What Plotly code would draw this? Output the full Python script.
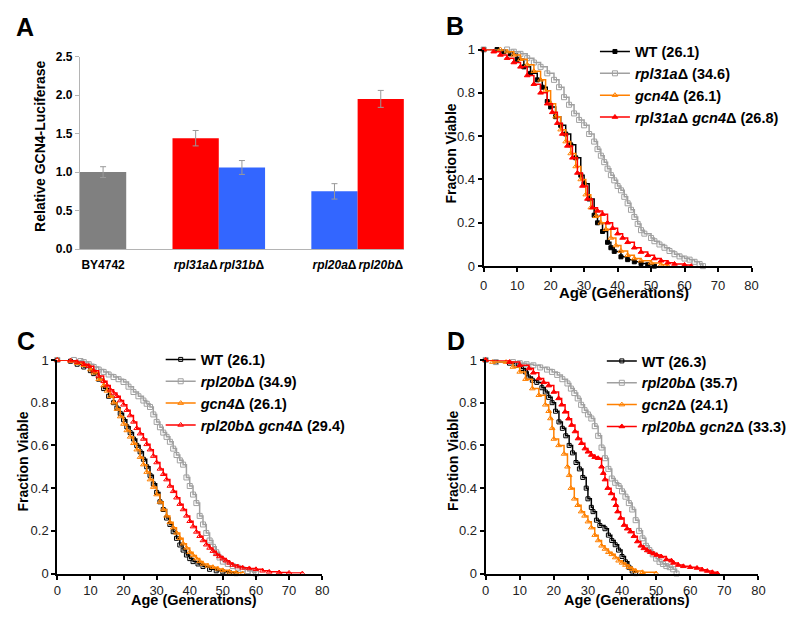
import plotly.graph_objects as go

FONT = "Liberation Sans, Arial, sans-serif"

# ---------------- Panel A data ----------------
a_labels = ["BY4742", "<i>rpl31a</i>Δ", "<i>rpl31b</i>Δ", "<i>rpl20a</i>Δ", "<i>rpl20b</i>Δ"]
a_pos = [0.5, 2.5, 3.5, 5.5, 6.5]
a_values = [1.00, 1.44, 1.06, 0.75, 1.95]
a_errors = [0.07, 0.10, 0.09, 0.10, 0.11]
a_colors = ["#808080", "#ff0000", "#3366ff", "#3366ff", "#ff0000"]

# ---------------- Panel B data ----------------
b_wt_age = [0, 4, 6, 8, 10, 12, 14, 16, 17.5, 19, 20, 21.5, 23, 24.5, 26, 27.5, 29, 30, 31.5, 33, 34, 35.5, 37, 38, 39, 41, 43, 45, 47, 49, 51]
b_wt_f = [1, 1, 0.99, 0.98, 0.955, 0.92, 0.89, 0.86, 0.826, 0.76, 0.735, 0.69, 0.65, 0.61, 0.56, 0.50, 0.42, 0.38, 0.31, 0.235, 0.20, 0.16, 0.11, 0.085, 0.068, 0.043, 0.03, 0.02, 0.012, 0.006, 0]
b_rpl_age = [0, 7, 9, 11, 13, 15, 17, 19, 21, 22.5, 24, 25.5, 27, 28.5, 30, 31.5, 33, 34, 35, 36, 37, 38, 39, 40, 41, 42, 43, 44, 45, 46, 47, 48, 50, 51, 52.5, 54, 55.5, 57, 58.5, 60, 61.5, 63, 64.5, 65.5]
b_rpl_f = [1, 1, 0.99, 0.98, 0.96, 0.94, 0.92, 0.89, 0.86, 0.826, 0.78, 0.745, 0.705, 0.675, 0.65, 0.61, 0.575, 0.54, 0.51, 0.48, 0.45, 0.42, 0.396, 0.37, 0.35, 0.32, 0.29, 0.26, 0.227, 0.195, 0.166, 0.15, 0.13, 0.115, 0.10, 0.085, 0.07, 0.055, 0.045, 0.035, 0.03, 0.02, 0.01, 0]
b_gcn_age = [0, 5, 7, 9, 11, 13, 15, 17, 18.5, 20, 21.5, 23, 24.5, 26, 27.5, 29, 30.5, 32, 33.5, 35, 36.5, 38, 39.5, 41, 43, 45, 47, 50, 53, 55]
b_gcn_f = [1, 1, 0.99, 0.975, 0.955, 0.93, 0.90, 0.86, 0.81, 0.75, 0.69, 0.63, 0.575, 0.52, 0.46, 0.40, 0.33, 0.27, 0.23, 0.20, 0.17, 0.13, 0.095, 0.07, 0.05, 0.035, 0.025, 0.015, 0.006, 0]
b_dbl_age = [0, 3, 5, 7, 9, 11, 13, 15, 17, 19, 20.5, 22, 23.5, 25, 26.5, 28, 29.5, 31, 32.5, 34, 35.5, 37, 38.5, 40, 41.5, 43, 45, 47, 49, 51, 53, 55, 57, 60, 62]
b_dbl_f = [1, 0.99, 0.975, 0.96, 0.94, 0.92, 0.88, 0.84, 0.80, 0.75, 0.71, 0.66, 0.61, 0.555, 0.50, 0.43, 0.37, 0.31, 0.27, 0.255, 0.24, 0.20, 0.175, 0.15, 0.13, 0.11, 0.085, 0.065, 0.05, 0.035, 0.025, 0.016, 0.01, 0.005, 0]

# ---------------- Panel C data ----------------
c_wt_age = [0, 4, 6, 8, 10, 11, 12.5, 14, 15.5, 17, 18, 19, 20, 21, 22, 23, 24, 25, 26, 27, 28, 29, 30, 31, 32, 33, 34, 35, 36, 37, 38, 39, 40, 41, 42.5, 44, 46, 48, 50, 52, 54]
c_wt_f = [1, 0.994, 0.98, 0.967, 0.95, 0.936, 0.91, 0.866, 0.83, 0.80, 0.775, 0.75, 0.72, 0.687, 0.66, 0.63, 0.60, 0.57, 0.535, 0.50, 0.46, 0.42, 0.38, 0.336, 0.30, 0.26, 0.23, 0.196, 0.165, 0.134, 0.11, 0.087, 0.07, 0.056, 0.045, 0.033, 0.02, 0.013, 0.008, 0.004, 0]
c_rpl_age = [0, 5, 7, 8, 9.5, 11, 12.5, 14, 15.5, 17, 18.5, 20, 21.5, 23, 24.5, 26, 27, 28, 29, 30, 31, 32, 33, 34, 35, 36, 37, 38, 39, 40, 41, 42, 43, 44, 45, 46, 47, 48, 49, 50, 51.5, 53, 54.5, 56, 57.5, 59, 60]
c_rpl_f = [1, 1, 0.995, 0.99, 0.98, 0.967, 0.955, 0.944, 0.932, 0.92, 0.91, 0.897, 0.875, 0.85, 0.83, 0.81, 0.795, 0.78, 0.745, 0.71, 0.685, 0.66, 0.64, 0.617, 0.585, 0.555, 0.53, 0.51, 0.45, 0.41, 0.37, 0.33, 0.27, 0.23, 0.19, 0.155, 0.125, 0.10, 0.075, 0.056, 0.045, 0.035, 0.028, 0.02, 0.012, 0.005, 0]
c_gcn_age = [0, 4, 6, 8, 10, 11, 12.5, 14, 15, 16, 17, 18, 19, 20, 21, 22, 23, 24, 25, 26, 27, 28, 29, 30, 31, 32, 33, 34, 35, 36, 37, 38, 39, 40, 41, 42, 43, 44, 45.5, 47, 48.5, 50, 52, 54, 56]
c_gcn_f = [1, 0.995, 0.985, 0.975, 0.955, 0.94, 0.91, 0.88, 0.855, 0.83, 0.80, 0.77, 0.735, 0.70, 0.67, 0.64, 0.61, 0.58, 0.545, 0.51, 0.475, 0.44, 0.405, 0.37, 0.335, 0.30, 0.27, 0.24, 0.215, 0.19, 0.165, 0.14, 0.12, 0.10, 0.085, 0.07, 0.057, 0.045, 0.036, 0.03, 0.022, 0.015, 0.008, 0.004, 0]
c_dbl_age = [0, 4, 6, 8, 9.5, 11, 12.5, 14, 15, 16, 17, 18, 19, 20, 21, 22, 23, 24, 25, 26, 27, 28, 29, 30, 31, 32, 33, 34, 35, 36, 37, 38, 39, 40, 41, 42, 43, 44, 45, 46, 47, 48, 49, 50, 51, 52, 53, 54.5, 56, 58, 60, 62, 64, 67, 70, 74]
c_dbl_f = [1, 0.997, 0.99, 0.98, 0.97, 0.95, 0.925, 0.90, 0.88, 0.86, 0.845, 0.83, 0.81, 0.79, 0.765, 0.74, 0.71, 0.68, 0.655, 0.63, 0.605, 0.58, 0.55, 0.52, 0.49, 0.465, 0.44, 0.41, 0.385, 0.355, 0.325, 0.30, 0.27, 0.245, 0.22, 0.195, 0.175, 0.155, 0.135, 0.12, 0.105, 0.09, 0.08, 0.07, 0.06, 0.05, 0.04, 0.033, 0.027, 0.024, 0.02, 0.013, 0.008, 0.005, 0.003, 0]

# ---------------- Panel D data ----------------
d_wt_age = [0, 3, 7, 9, 10.5, 11.7, 12.5, 13.7, 15, 16.5, 17.5, 18.5, 19.5, 20.5, 21.5, 22.5, 23.5, 24.5, 25.5, 26.5, 27.5, 28.5, 29.5, 30, 31, 31.5, 32.5, 33.5, 35, 36, 37, 38, 39, 40, 41, 42, 43, 44]
d_wt_f = [1, 0.99, 0.985, 0.975, 0.96, 0.944, 0.92, 0.905, 0.895, 0.87, 0.85, 0.825, 0.80, 0.76, 0.71, 0.68, 0.645, 0.60, 0.565, 0.52, 0.49, 0.45, 0.40, 0.35, 0.31, 0.29, 0.25, 0.225, 0.21, 0.18, 0.155, 0.135, 0.11, 0.08, 0.055, 0.03, 0.012, 0]
d_rpl_age = [0, 3, 8, 10, 12, 14, 16, 18, 19.5, 21, 22.5, 24, 25, 26, 27, 28, 29, 30, 31, 32, 33, 34, 35, 36, 37, 38, 39, 40, 41, 42, 43, 44, 45, 46, 47, 48, 49, 50, 51, 52, 53, 54, 55, 56]
d_rpl_f = [1, 0.99, 0.99, 0.985, 0.98, 0.975, 0.965, 0.955, 0.944, 0.93, 0.91, 0.89, 0.866, 0.845, 0.82, 0.79, 0.765, 0.745, 0.726, 0.69, 0.645, 0.59, 0.54, 0.49, 0.445, 0.425, 0.41, 0.385, 0.36, 0.33, 0.30, 0.25, 0.20, 0.165, 0.13, 0.11, 0.09, 0.07, 0.055, 0.045, 0.035, 0.03, 0.02, 0]
d_gcn_age = [0, 2, 6, 8, 10, 11.7, 13.7, 15.6, 17.5, 18.5, 19, 19.5, 20, 21.4, 23, 24, 24.5, 25, 26, 27, 28, 29, 30, 31, 32, 33, 34, 35, 36, 37, 38, 39, 40, 41, 42, 43, 44, 46, 50]
d_gcn_f = [1, 0.99, 0.99, 0.967, 0.944, 0.91, 0.866, 0.835, 0.79, 0.76, 0.726, 0.68, 0.63, 0.60, 0.56, 0.50, 0.46, 0.40, 0.35, 0.32, 0.29, 0.27, 0.243, 0.215, 0.18, 0.155, 0.13, 0.115, 0.10, 0.09, 0.075, 0.06, 0.05, 0.04, 0.03, 0.02, 0.012, 0.006, 0]
d_dbl_age = [0, 7, 10, 12.7, 14, 15.6, 17, 18.5, 20, 21.4, 22.3, 23.3, 24.3, 25.2, 26.2, 27.1, 28.1, 29.1, 30, 31, 32, 33, 34, 34.5, 35, 35.8, 36.8, 37.7, 38.2, 38.7, 39.6, 40.6, 41.5, 42.5, 43.5, 44.5, 45.5, 46.4, 47.4, 48.3, 49.3, 50.2, 51.5, 53, 54.5, 55.1, 56.5, 58, 60, 62, 63.5, 65, 66.5, 68]
d_dbl_f = [1, 0.99, 0.975, 0.96, 0.94, 0.913, 0.895, 0.88, 0.85, 0.82, 0.79, 0.757, 0.725, 0.695, 0.665, 0.632, 0.61, 0.585, 0.57, 0.555, 0.545, 0.54, 0.50, 0.47, 0.44, 0.40, 0.375, 0.35, 0.32, 0.29, 0.26, 0.227, 0.21, 0.196, 0.175, 0.15, 0.13, 0.118, 0.108, 0.10, 0.093, 0.087, 0.08, 0.066, 0.06, 0.05, 0.04, 0.034, 0.03, 0.026, 0.018, 0.012, 0.006, 0]

# legend names
b_names = ["WT (26.1)", "<i>rpl31a</i>Δ (34.6)", "<i>gcn4</i>Δ (26.1)", "<i>rpl31a</i>Δ <i>gcn4</i>Δ (26.8)"]
c_names = ["WT (26.1)", "<i>rpl20b</i>Δ (34.9)", "<i>gcn4</i>Δ (26.1)", "<i>rpl20b</i>Δ <i>gcn4</i>Δ (29.4)"]
d_names = ["WT (26.3)", "<i>rpl20b</i>Δ (35.7)", "<i>gcn2</i>Δ (24.1)", "<i>rpl20b</i>Δ <i>gcn2</i>Δ (33.3)"]

BLACK, GRAY, ORANGE, RED = "#000000", "#a0a0a0", "#ff8000", "#ff0000"

fig = go.Figure()

# Panel A bars
fig.add_trace(go.Bar(
    x=a_pos, y=a_values, width=1.0, marker=dict(color=a_colors, line=dict(width=0)),
    error_y=dict(type="data", array=a_errors, color="#999999", thickness=1, width=3),
    xaxis="x", yaxis="y", showlegend=False))

def add_curve(ages, fr, name, color, symbol, size, xa, ya, leg, group):
    fig.add_trace(go.Scatter(
        x=ages, y=fr, mode="lines+markers", line=dict(color=color, width=1.5, shape="hv"),
        marker=dict(symbol=symbol, size=size, color=color, line=dict(color=color, width=1)),
        name="<b>" + name + "</b>", xaxis=xa, yaxis=ya, legend=leg, legendgroup=group,
        cliponaxis=False))

# Panel B
add_curve(b_wt_age, b_wt_f, b_names[0], BLACK, "square", 4, "x2", "y2", "legend", "b1")
add_curve(b_rpl_age, b_rpl_f, b_names[1], GRAY, "square-open", 5, "x2", "y2", "legend", "b2")
add_curve(b_gcn_age, b_gcn_f, b_names[2], ORANGE, "triangle-up-open", 5, "x2", "y2", "legend", "b3")
add_curve(b_dbl_age, b_dbl_f, b_names[3], RED, "triangle-up", 5, "x2", "y2", "legend", "b4")
# Panel C
add_curve(c_wt_age, c_wt_f, c_names[0], BLACK, "square-open", 4, "x3", "y3", "legend2", "c1")
add_curve(c_rpl_age, c_rpl_f, c_names[1], GRAY, "square-open", 5, "x3", "y3", "legend2", "c2")
add_curve(c_gcn_age, c_gcn_f, c_names[2], ORANGE, "triangle-up-open", 5, "x3", "y3", "legend2", "c3")
add_curve(c_dbl_age, c_dbl_f, c_names[3], RED, "triangle-up-open", 5, "x3", "y3", "legend2", "c4")
# Panel D
add_curve(d_wt_age, d_wt_f, d_names[0], BLACK, "square-open", 4, "x4", "y4", "legend3", "d1")
add_curve(d_rpl_age, d_rpl_f, d_names[1], GRAY, "square-open", 5, "x4", "y4", "legend3", "d2")
add_curve(d_gcn_age, d_gcn_f, d_names[2], ORANGE, "triangle-up-open", 5, "x4", "y4", "legend3", "d3")
add_curve(d_dbl_age, d_dbl_f, d_names[3], RED, "triangle-up", 5, "x4", "y4", "legend3", "d4")

# Figure size; the page adds the browser's body margin around it.  The helpers
# below convert a position on the final 800x622 picture into paper fractions.
W, H, OFF = 784, 606, 8
YS, YC = 0.977, 6.6   # vertical picture scale / shift measured for this page
def px_x(p): return (p - OFF) / W
def px_y(p): return 1 - ((p - YC) / YS - OFF) / H

surv_common = dict(showline=True, linecolor="black", linewidth=2, ticks="outside", ticklen=4,
                   tickwidth=1.5, tickcolor="black", showgrid=False, zeroline=False,
                   tickfont=dict(family=FONT, size=13, color="#222"))
surv_x = dict(range=[0, 80], tickvals=[0, 10, 20, 30, 40, 50, 60, 70, 80], **surv_common)
surv_y = dict(range=[0, 1], tickvals=[0, 0.2, 0.4, 0.6, 0.8, 1],
              ticktext=["0", "0.2", "0.4", "0.6", "0.8", "1"], **surv_common)

leg_common = dict(font=dict(family=FONT, size=14.5, color="black"), bgcolor="rgba(0,0,0,0)",
                  tracegroupgap=0, itemwidth=30, xanchor="left", yanchor="top")

fig.update_layout(
    width=W, height=H, margin=dict(l=0, r=0, t=0, b=0),
    plot_bgcolor="white", paper_bgcolor="white",
    font=dict(family=FONT, color="black"),
    xaxis=dict(domain=[px_x(77), px_x(406)], range=[0, 7], tickvals=a_pos, ticktext=a_labels,
               showline=True, linecolor="#b4b4b4", linewidth=1, ticks="", showgrid=False,
               zeroline=False, ticklabelstandoff=4, tickangle=0,
               tickfont=dict(family=FONT, size=12, weight="bold", color="black"), anchor="y"),
    yaxis=dict(domain=[px_y(249), px_y(56)], range=[0, 2.5], tickvals=[0, 0.5, 1, 1.5, 2, 2.5],
               tickformat=".1f", showline=True, linecolor="#b4b4b4", linewidth=1,
               ticks="outside", ticklen=4, tickcolor="#b4b4b4", showgrid=False, zeroline=False,
               tickfont=dict(family=FONT, size=12, weight="bold", color="black"), anchor="x"),
    xaxis2=dict(domain=[px_x(487), px_x(759)], anchor="y2", ticklabelstandoff=2, **surv_x),
    yaxis2=dict(domain=[px_y(266), px_y(49)], anchor="x2", **surv_y),
    xaxis3=dict(domain=[px_x(54), px_x(323)], anchor="y3", ticklabelstandoff=0, **surv_x),
    yaxis3=dict(domain=[px_y(574), px_y(360)], anchor="x3", **surv_y),
    xaxis4=dict(domain=[px_x(489), px_x(766)], anchor="y4", ticklabelstandoff=0, **surv_x),
    yaxis4=dict(domain=[px_y(574), px_y(360)], anchor="x4", **surv_y),
    legend=dict(x=px_x(600), y=px_y(35), **leg_common),
    legend2=dict(x=px_x(159), y=px_y(343.5), **leg_common),
    legend3=dict(x=px_x(607), y=px_y(345), **leg_common),
    showlegend=True,
)

def ann(text, x, y, size, angle=0):
    fig.add_annotation(text=text, x=px_x(x), y=px_y(y), xref="paper", yref="paper",
                       showarrow=False, textangle=angle, xanchor="center", yanchor="middle",
                       font=dict(family=FONT, size=size, color="black", weight="bold"))

# panel letters
ann("A", 21, 26, 25)
ann("B", 458, 25, 25)
ann("C", 22, 341, 25)
ann("D", 459, 341, 25)
# axis titles
ann("Relative GCN4-Luciferase", 37, 146, 14, -90)
ann("Fraction Viable", 454, 153, 14, -90)
ann("Age (Generations)", 630, 292, 15)
ann("Fraction Viable", 19, 462, 14, -90)
ann("Age (Generations)", 193, 600.5, 14.5)
ann("Fraction Viable", 456, 461, 14, -90)
ann("Age (Generations)", 633, 600.5, 14.5)

fig.write_html("out.html", config={"displayModeBar": False})
